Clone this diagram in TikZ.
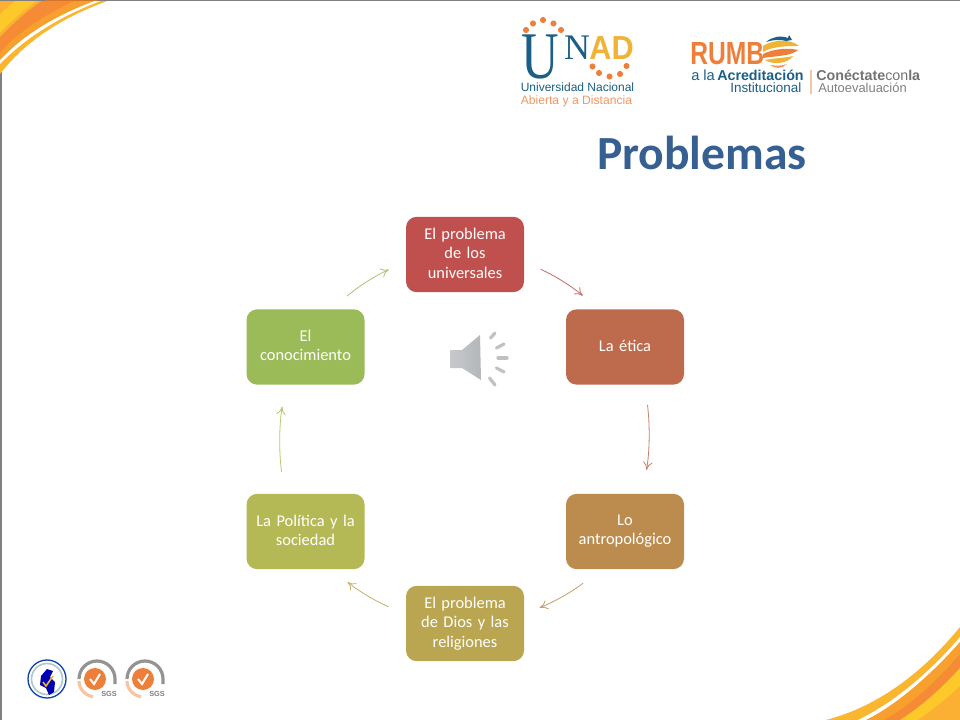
\documentclass[tikz,border=0pt]{standalone}
\usepackage{fontspec}
\setmainfont{Carlito}
\newfontfamily\logosans{Liberation Sans}
\newfontfamily\logoserif{Liberation Serif}
\usetikzlibrary{arrows.meta,shadings}
\definecolor{cA}{HTML}{C0504D}
\definecolor{cB}{HTML}{BE6B4D}
\definecolor{cC}{HTML}{BC8C4F}
\definecolor{cD}{HTML}{BAA651}
\definecolor{cE}{HTML}{B5B955}
\definecolor{cF}{HTML}{9BBB59}
\definecolor{titleblue}{HTML}{376092}
\definecolor{unadblue}{HTML}{1C5F86}
\definecolor{unadgold}{HTML}{EFB336}
\definecolor{unadorange}{HTML}{EE7F3A}
\definecolor{swGold}{HTML}{F9B62E}
\definecolor{swOrange}{HTML}{F8A02E}
\definecolor{swDark}{HTML}{F58B35}
\definecolor{swYellow}{HTML}{FDC82A}
\definecolor{swLight}{HTML}{FBB034}
\definecolor{spk}{HTML}{B4B7BA}
\tikzset{
  x=0.75pt,y=-0.75pt,
  cyclebox/.style={rounded corners=8pt,minimum width=88.5pt,minimum height=56.5pt,
    text width=80pt,align=center,inner sep=0pt,text=white,
    font=\fontsize{12.3}{14.5}\selectfont,
    execute at end node={\rule[-2.2pt]{0pt}{0pt}}},
  cyclearrow/.style={line width=0.6pt,-{To[length=6pt,width=7pt]},bend left=8},
  logodot/.style={fill=unadorange,draw=none,circle,minimum size=4.6pt,inner sep=0pt},
  logotext/.style={inner sep=0pt,anchor=base west},
  tick/.style={line width=2.4pt,spk!85,line cap=round},
  seal/.style={draw=gray!85,line width=2.4pt},
  sgs/.style={inner sep=0pt,text=gray,font=\logosans\bfseries\fontsize{5.5}{5.5}\selectfont}
}
\begin{document}
\begin{tikzpicture}
\useasboundingbox (0,0) rectangle (960,720);
\fill[white] (0,0) rectangle (960,720);
% frame lines
\fill[gray] (0,0) rectangle (960,1.5);
\fill[gray] (0,0) rectangle (1.5,720);
% top-left swoosh
\fill[swGold] (0,74) .. controls (25,42) and (60,18) .. (110,0) -- (0,0) -- cycle;
\fill[white] (0,64) .. controls (25,38) and (60,16) .. (103,0) -- (97,0) .. controls (55,15) and (22,36) .. (0,60) -- cycle;
\fill[swOrange] (0,60) .. controls (22,36) and (55,15) .. (97,0) -- (0,0) -- cycle;
\fill[swDark] (0,53) .. controls (15,34) and (45,14) .. (77,0) -- (0,0) -- cycle;
\fill[swLight] (0,37) .. controls (12,24) and (28,10) .. (43,0) -- (0,0) -- cycle;
\fill[swYellow] (0,33) .. controls (10,22) and (24,10) .. (38,0) -- (0,0) -- cycle;
\fill[swLight] (0,14) .. controls (4,10) and (10,5) .. (16,0) -- (0,0) -- cycle;
\fill[gray] (0,0) rectangle (960,1);
\fill[gray] (0,75) rectangle (1.5,720);
\fill[swDark!85!black] (45,0) rectangle (97,1.5);
% bottom-right swoosh
\fill[swGold] (826,720) .. controls (880,706) and (925,670) .. (960,627) -- (960,720) -- cycle;
\fill[white] (858,720) .. controls (895,702) and (930,672) .. (960,637) -- (960,642) .. controls (930,676) and (895,706) .. (866,720) -- cycle;
\fill[swOrange] (866,720) .. controls (895,706) and (930,676) .. (960,642) -- (960,720) -- cycle;
\fill[swDark] (884,720) .. controls (910,706) and (938,680) .. (960,654) -- (960,720) -- cycle;
\fill[swYellow] (900,720) .. controls (922,706) and (942,688) .. (960,668) -- (960,720) -- cycle;
\fill[swLight] (918,720) .. controls (932,710) and (948,698) .. (960,686) -- (960,720) -- cycle;
% UNAD logo
\node[inner sep=0pt,text=unadblue,font=\logoserif\fontsize{50}{50}\selectfont] (uU) at (540,57.5) {\scalebox{0.78}[1]{U}};
\node[inner sep=0pt,text=unadblue,font=\logoserif\fontsize{27}{27}\selectfont] (uN) at (577,47.5) {N};
\node[inner sep=0pt,text=unadgold,font=\logosans\bfseries\fontsize{25}{25}\selectfont] (uAD) at (611.5,48.5) {\scalebox{0.92}[1]{AD}};
\foreach \i/\dx/\dy in {a/526/30,b/533/23.5,c/543/20,d/553.5/23.5,e/561/30,f/592.5/66.5,g/599/73,h/609.5/76.5,i/620/74,j/626.5/66}
  \node[logodot] (dot\i) at (\dx,\dy) {};
\node[logotext,text=unadblue,font=\logosans\fontsize{9}{9}\selectfont] (uname) at (520.5,92) {Universidad Nacional};
\node[logotext,text=unadorange!80!white,font=\logosans\fontsize{9.1}{9}\selectfont] (uname2) at (520.5,105) {Abierta y a Distancia};
% RUMBO logo
\node[logotext,text=unadorange,font=\logosans\bfseries\fontsize{24}{24}\selectfont] (rumb) at (690,65) {\scalebox{0.77}[1]{RUMB}};
\fill[unadgold] (763,46) .. controls (772,40) and (790,38) .. (799,46) .. controls (790,46) and (772,46) .. (763,52) -- cycle;
\fill[unadorange] (763,54) .. controls (775,48) and (790,48) .. (798,50) .. controls (792,56) and (775,56) .. (763,58) -- cycle;
\fill[unadgold] (765,60) .. controls (775,58) and (785,58) .. (793,56) .. controls (788,64) and (772,65) .. (765,60) -- cycle;
\fill[unadorange!80!white] (770,65) .. controls (776,66) and (782,66) .. (787,64) .. controls (782,69) and (775,69) .. (770,65) -- cycle;
\fill[unadblue] (766,42) .. controls (772,37) and (780,35) .. (788,38) -- (789,35) -- (792,40) -- (786,41) .. controls (780,39) and (772,40) .. (766,42) -- cycle;
\node[logotext,text=unadblue,font=\logosans\fontsize{11}{11}\selectfont] (ala) at (691,81) {a la};
\node[logotext,text=unadblue,font=\logosans\bfseries\fontsize{10.7}{11}\selectfont] (acred) at (717,81) {Acreditación};
\node[logotext,text=unadblue,font=\logosans\fontsize{10.1}{11}\selectfont] (inst) at (730,93) {Institucional};
\draw[unadorange!45,line width=0.8pt] (811,70) -- (811,94);
\node[logotext,text=gray!90!black,font=\logosans\fontsize{10.7}{11}\selectfont] (conec) at (816,81) {\textbf{Conéctate}con\textbf{la}};
\node[logotext,text=gray,font=\logosans\fontsize{9.7}{11}\selectfont] (auto) at (818,93) {Autoevaluación};
% seals
\draw[unadblue!70!blue,line width=1pt,fill=white] (47,679) circle[radius=19];
\draw[unadblue!35,line width=1.2pt] (47,679) circle[radius=15.5];
\fill[blue!70!black] (47,669) -- (53,671) -- (50,677) -- (55,682) -- (54,692) -- (49,695) -- (46,688) -- (40,685) -- (41,676) -- cycle;
\draw[unadgold,line width=1.2pt] (43,682) -- (46,686) -- (53,676);
\foreach \n/\cx in {p/97,q/145}{
  \draw[seal] (\cx-18,679) arc[start angle=180,end angle=360,x radius=18,y radius=18] -- ++(0,5);
  \draw[unadorange!45,line width=2.4pt] (\cx-18,681) arc[start angle=180,end angle=100,x radius=17,y radius=16];
  \node[fill=unadorange,circle,minimum size=16.5pt,inner sep=0pt] (seal\n) at (\cx-2,679) {};
  \draw[white,line width=1.5pt] (\cx-7,679) -- (\cx-3,684) -- (\cx+3,674);
  \node[sgs] (sgs\n) at (\cx+12,694) {SGS};
}
% title
\node[inner sep=0pt,text=titleblue,font=\bfseries\fontsize{35.7}{36}\selectfont] (title) at (702,153) {Problemas};
% cycle boxes
\node[cyclebox,fill=cA] (n1) at (465,254.5) {El problema\\ de los\\ universales};
\node[cyclebox,fill=cB] (n2) at (625,347) {La ética};
\node[cyclebox,fill=cC] (n3) at (625,531.5) {Lo\\ antropológico};
\node[cyclebox,fill=cD] (n4) at (465,623.5) {El problema\\ de Dios y las\\ religiones};
\node[cyclebox,fill=cE] (n5) at (305.5,531.5) {La Política y la\\ sociedad};
\node[cyclebox,fill=cF] (n6) at (305.5,347) {El\\ conocimiento};
% connectors
\draw[cyclearrow,cA!85,shorten <=13.5pt,shorten >=15.5pt] (n1.-7) to (n2.125);
\draw[cyclearrow,cB!85,shorten <=15pt,shorten >=18pt] (n2.-62) to (n3.65);
\draw[cyclearrow,cC!85,shorten <=16.5pt,shorten >=12.5pt] (n3.-123) to (n4.9);
\draw[cyclearrow,cD!85,shorten <=14pt,shorten >=15pt] (n4.171) to (n5.-55);
\draw[cyclearrow,cE!85,shorten <=16.5pt,shorten >=16.5pt] (n5.119) to (n6.-118);
\draw[cyclearrow,cF!85,shorten <=15pt,shorten >=14pt] (n6.55) to (n1.187);
% speaker icon
\path[left color=spk!75,right color=spk] (450,350) -- (462,350) -- (480,335) -- (481,380) -- (462,368) -- (450,368) -- cycle;
\draw[tick] (490.5,338) -- (495,333);
\draw[tick] (496.5,348) -- (504,344);
\draw[tick] (498,358) -- (507,358);
\draw[tick] (496.5,368) -- (504,372);
\draw[tick] (489.5,378) -- (495,385);
\end{tikzpicture}
\end{document}
